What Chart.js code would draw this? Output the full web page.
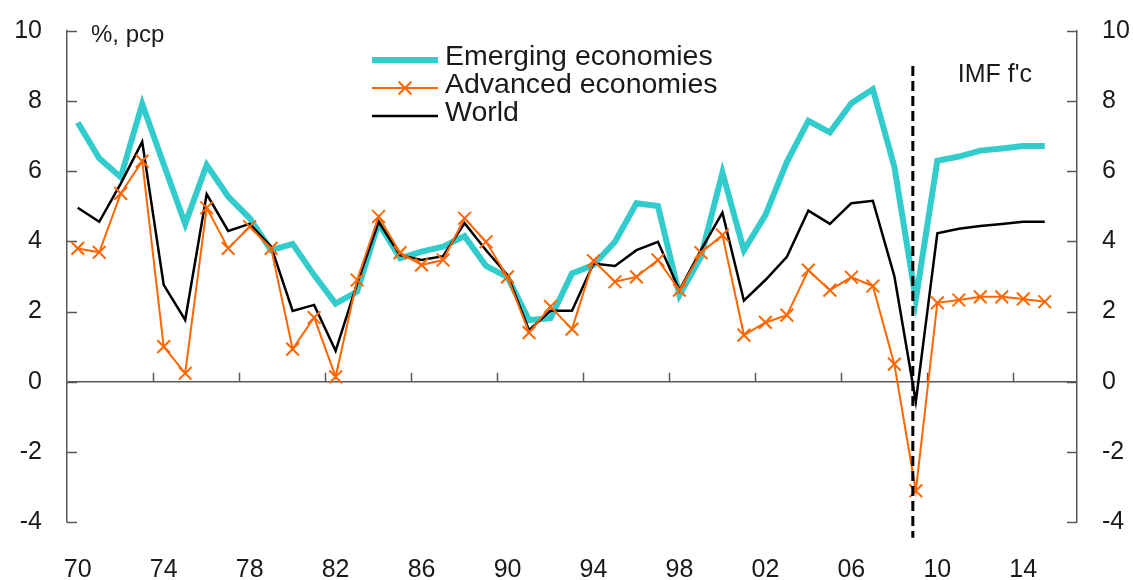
<!DOCTYPE html>
<html>
<head>
<meta charset="utf-8">
<script src="https://cdn.jsdelivr.net/npm/chart.js@4.4.1/dist/chart.umd.min.js"></script>
<style>
html,body{margin:0;padding:0;background:#fff;}
#wrap{width:1133px;height:580px;position:relative;}
</style>
</head>
<body>
<div id="wrap"><canvas id="c" width="1133" height="580"></canvas></div>
<script>
// ---- data ----
const years = [1970,1971,1972,1973,1974,1975,1976,1977,1978,1979,
               1980,1981,1982,1983,1984,1985,1986,1987,1988,1989,
               1990,1991,1992,1993,1994,1995,1996,1997,1998,1999,
               2000,2001,2002,2003,2004,2005,2006,2007,2008,2009,
               2010,2011,2012,2013,2014,2015,2016];
const emerging = [7.39,6.37,5.83,7.92,6.20,4.50,6.18,5.28,4.66,3.75,
                  3.93,3.04,2.23,2.57,4.52,3.52,3.71,3.85,4.15,3.30,
                  2.98,1.76,1.81,3.09,3.33,3.99,5.09,5.01,2.47,3.56,
                  5.96,3.75,4.75,6.27,7.44,7.11,7.94,8.34,6.13,2.35,
                  6.30,6.42,6.59,6.65,6.72,6.72];
const advanced = [3.80,3.69,5.37,6.29,1.00,0.24,4.96,3.80,4.42,3.80,
                  0.93,1.83,0.14,2.90,4.71,3.68,3.33,3.47,4.66,3.99,
                  2.99,1.40,2.14,1.50,3.45,2.85,2.99,3.47,2.61,3.68,
                  4.18,1.33,1.69,1.90,3.18,2.61,2.98,2.73,0.50,-3.11,
                  2.25,2.33,2.42,2.42,2.36,2.28];
const world = [4.96,4.56,5.65,6.84,2.76,1.76,5.35,4.30,4.50,3.85,
               2.02,2.19,0.88,2.80,4.56,3.61,3.47,3.58,4.52,3.75,
               3.04,1.47,2.02,2.02,3.37,3.30,3.75,3.99,2.61,3.75,
               4.82,2.31,2.90,3.56,4.88,4.50,5.09,5.16,3.01,-0.57,
               4.23,4.36,4.44,4.50,4.56,4.56];
const seriesNames = ['Emerging economies','Advanced economies','World'];
const yMin = -4, yMax = 10, yStep = 2;
const unitLabel = '%, pcp';
const forecastLabel = "IMF f'c";
const forecastYear = 2009;
const forecastLineTop = 9;
const forecastLineBottom = -4.45;

// ---- style ----
const FONT = '"Liberation Sans", Arial, sans-serif';
const TXT = '#1a1a1a';
const AXIS = '#595959';
const TEAL = '#33CCCC';
const ORANGE = '#FF6600';

const decor = {
  id: 'decor',
  beforeDatasetsDraw(chart) {
    const ctx = chart.ctx, x = chart.scales.x, y = chart.scales.y, a = chart.chartArea;
    ctx.save();
    ctx.strokeStyle = AXIS;
    ctx.lineWidth = 1.5;
    for (let v = yMin; v <= yMax; v += yStep) {
      const py = Math.round(y.getPixelForValue(v)) + 0.5;
      ctx.beginPath();
      ctx.moveTo(a.left, py); ctx.lineTo(a.left + 10, py);
      ctx.moveTo(a.right, py); ctx.lineTo(a.right - 10, py);
      ctx.stroke();
    }
    const y0 = y.getPixelForValue(0);
    for (let i = 4; i < years.length; i += 4) {
      const px = Math.round((x.getPixelForValue(i - 1) + x.getPixelForValue(i)) / 2) + 0.5;
      ctx.beginPath();
      ctx.moveTo(px, y0); ctx.lineTo(px, y0 - 9);
      ctx.stroke();
    }
    ctx.restore();
  },
  afterDatasetsDraw(chart) {
    const ctx = chart.ctx, x = chart.scales.x, y = chart.scales.y, a = chart.chartArea;
    ctx.save();
    const fi = years.indexOf(forecastYear);
    const fx = x.getPixelForValue(fi) - 3;
    ctx.strokeStyle = '#000';
    ctx.lineWidth = 3;
    ctx.setLineDash([10, 5]);
    ctx.beginPath();
    ctx.moveTo(fx, y.getPixelForValue(forecastLineTop));
    ctx.lineTo(fx, y.getPixelForValue(forecastLineBottom));
    ctx.stroke();
    ctx.setLineDash([]);
    ctx.fillStyle = TXT;
    ctx.textBaseline = 'alphabetic';
    ctx.textAlign = 'left';
    ctx.font = '25px ' + FONT;
    ctx.fillText(forecastLabel, fx + 45, 82);
    ctx.font = '24px ' + FONT;
    ctx.fillText(unitLabel, a.left + 24, 42);
    const lx0 = 372, lx1 = 438, tx = 445;
    const rows = [65, 93, 121];
    ctx.font = '28.5px ' + FONT;
    ctx.strokeStyle = TEAL; ctx.lineWidth = 6;
    ctx.beginPath(); ctx.moveTo(lx0, rows[0] - 5); ctx.lineTo(lx1, rows[0] - 5); ctx.stroke();
    ctx.fillText(seriesNames[0], tx, rows[0]);
    ctx.strokeStyle = ORANGE; ctx.lineWidth = 2;
    const ay = rows[1] - 5;
    ctx.beginPath(); ctx.moveTo(lx0, ay); ctx.lineTo(lx1, ay); ctx.stroke();
    const mx = (lx0 + lx1) / 2, r = 6.5;
    ctx.beginPath();
    ctx.moveTo(mx - r, ay - r); ctx.lineTo(mx + r, ay + r);
    ctx.moveTo(mx - r, ay + r); ctx.lineTo(mx + r, ay - r);
    ctx.stroke();
    ctx.fillText(seriesNames[1], tx, rows[1]);
    ctx.strokeStyle = '#000'; ctx.lineWidth = 2.5;
    ctx.beginPath(); ctx.moveTo(lx0, rows[2] - 5); ctx.lineTo(lx1, rows[2] - 5); ctx.stroke();
    ctx.fillText(seriesNames[2], tx, rows[2]);
    ctx.restore();
  }
};

new Chart(document.getElementById('c'), {
  type: 'line',
  data: {
    labels: years,
    datasets: [
      { label: seriesNames[0], data: emerging, borderColor: TEAL, backgroundColor: TEAL,
        borderWidth: 6, pointRadius: 0, tension: 0, order: 3, fill: false },
      { label: seriesNames[1], data: advanced, borderColor: ORANGE, backgroundColor: ORANGE,
        borderWidth: 2, pointStyle: 'crossRot', pointRadius: 9, pointBorderWidth: 2,
        pointBorderColor: ORANGE, tension: 0, order: 1, fill: false },
      { label: seriesNames[2], data: world, borderColor: '#000', backgroundColor: '#000',
        borderWidth: 2.5, pointRadius: 0, tension: 0, order: 2, fill: false }
    ]
  },
  options: {
    responsive: false,
    animation: false,
    devicePixelRatio: 1,
    layout: { padding: { top: 31, left: 0, right: 0, bottom: 0 } },
    plugins: { legend: { display: false }, tooltip: { enabled: false } },
    scales: {
      x: {
        type: 'category',
        offset: true,
        grid: { display: false, drawTicks: false },
        border: { display: false },
        ticks: {
          autoSkip: false, maxRotation: 0, minRotation: 0, padding: 33,
          color: TXT, font: { family: FONT, size: 25 },
          callback: (v, i) => (i % 4 === 0 ? String(years[i]).slice(2) : '')
        },
        afterFit: s => { s.height = 58; }
      },
      y: {
        position: 'left',
        min: yMin, max: yMax,
        ticks: { stepSize: yStep, padding: 25, color: TXT, font: { family: FONT, size: 25, lineHeight: 0.25 } },
        grid: {
          drawTicks: false, lineWidth: 1.5,
          color: c => (c.tick && c.tick.value === 0 ? AXIS : 'rgba(0,0,0,0)')
        },
        border: { display: true, color: AXIS, width: 1.5 },
        afterFit: s => { s.width = 67; }
      },
      y2: {
        position: 'right',
        min: yMin, max: yMax,
        ticks: { stepSize: yStep, padding: 25, color: TXT, font: { family: FONT, size: 25, lineHeight: 0.25 } },
        grid: { drawOnChartArea: false, drawTicks: false },
        border: { display: true, color: AXIS, width: 1.5 },
        afterFit: s => { s.width = 56; }
      }
    }
  },
  plugins: [decor]
});
</script>
</body>
</html>
